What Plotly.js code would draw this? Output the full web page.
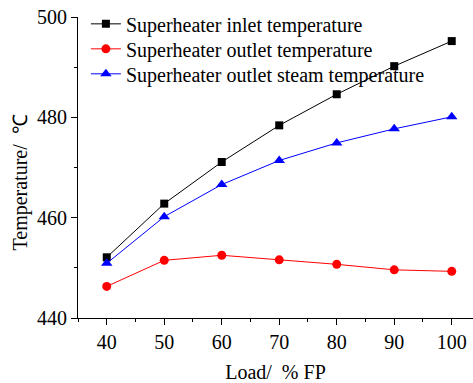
<!DOCTYPE html>
<html><head><meta charset="utf-8">
<script src="https://cdn.plot.ly/plotly-3.0.1.min.js"></script>
<style>html,body{margin:0;padding:0;background:#fff}#chart{width:473px;height:383px}</style>
</head><body><div id="chart"></div>
<script>
const load = [40, 50, 60, 70, 80, 90, 100];
const inletTemp = [452.1, 462.8, 471.1, 478.4, 484.6, 490.2, 495.2];
const outletTemp = [446.3, 451.5, 452.5, 451.6, 450.7, 449.6, 449.3];
const outletSteamTemp = [450.9, 460.2, 466.6, 471.4, 474.9, 477.7, 480.1];
const seriesNames = ["Superheater inlet temperature", "Superheater outlet temperature", "Superheater outlet steam temperature"];
const xTitle = "Load/  % FP";
const yTitle = "Temperature/  ℃";

const font = {family: "Liberation Serif, Times New Roman, serif", color: "#000"};
const f = (s) => Object.assign({size: s}, font);
const traces = [
  {x: load, y: inletTemp, name: seriesNames[0], legend: "legend", mode: "lines+markers", line: {color: "#000", width: 1}, marker: {symbol: "square", size: 8, color: "#000"}},
  {x: load, y: outletTemp, name: seriesNames[1], legend: "legend2", mode: "lines+markers", line: {color: "#ff0000", width: 1}, marker: {symbol: "circle", size: 9, color: "#ff0000"}},
  {x: load, y: outletSteamTemp, name: seriesNames[2], legend: "legend3", mode: "lines+markers", line: {color: "#0000ff", width: 1}, marker: {symbol: "triangle-up", size: 10, color: "#0000ff"}}
];
const legBase = {x: 0.02, xanchor: "left", yanchor: "top", bgcolor: "rgba(0,0,0,0)", font: f(20), itemwidth: 30};
const layout = {
  width: 473, height: 383,
  margin: {l: 78, r: 0, t: 17, b: 65},
  paper_bgcolor: "#fff", plot_bgcolor: "#fff",
  font: f(20),
  showlegend: true,
  legend: Object.assign({y: 1.042}, legBase),
  legend2: Object.assign({y: 0.959}, legBase),
  legend3: Object.assign({y: 0.876}, legBase),
  xaxis: {
    range: [35, 103.7], tickvals: load, ticks: "outside", ticklen: 6, tickwidth: 1, tickcolor: "#000",
    showline: true, linecolor: "#000", linewidth: 1, showgrid: false, zeroline: false,
    tickfont: f(20),
    minor: {dtick: 5, tick0: 35, ticks: "outside", ticklen: 3, tickcolor: "#000", showgrid: false},
    title: {text: xTitle, font: f(20), standoff: 16}
  },
  yaxis: {
    range: [440, 500], dtick: 20, tick0: 440, ticks: "outside", ticklen: 6, tickwidth: 1, tickcolor: "#000",
    showline: true, linecolor: "#000", linewidth: 1, showgrid: false, zeroline: false,
    tickfont: f(20),
    minor: {dtick: 10, ticks: "outside", ticklen: 3, tickcolor: "#000", showgrid: false}
  },
  annotations: [
    {text: yTitle, xref: "paper", yref: "paper", x: -0.1443, y: 0.45, xanchor: "center", yanchor: "middle", textangle: -90, showarrow: false, font: f(20)}
  ]
};
Plotly.newPlot("chart", traces, layout, {displayModeBar: false, staticPlot: true});
</script></body></html>
